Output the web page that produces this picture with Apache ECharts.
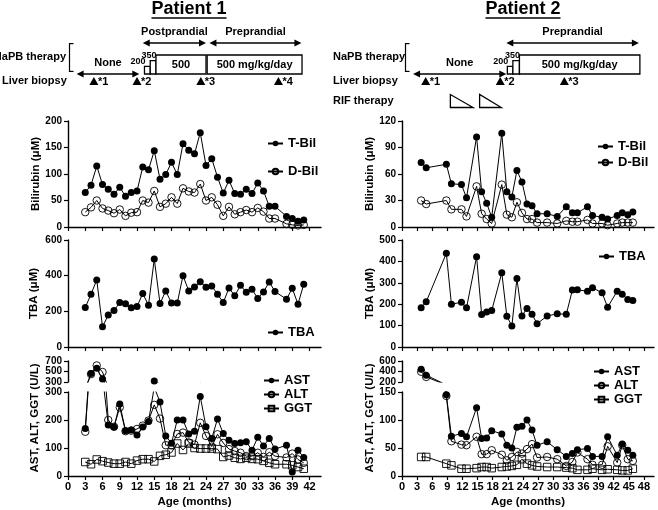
<!DOCTYPE html>
<html>
<head>
<meta charset="utf-8">
<script src="https://cdn.jsdelivr.net/npm/echarts@6/dist/echarts.min.js"></script>
<style>
  html, body { margin: 0; padding: 0; background: #fff; }
  #main { width: 658px; height: 510px; }
</style>
</head>
<body>
<div id="main"></div>
<script>
// ---- Patient 1 data (age in months) ----
const months1 = [3,4,5,6,7,8,9,10,11,12,13,14,15,16,17,18,19,20,21,22,23,24,25,26,27,28,29,30,31,32,33,34,35,36,38,39,40,41];
const tbil1 = [65,79,115,80,71,62,75,58,65,68,113,108,144,90,99,122,99,157,145,138,178,116,129,94,64,88,63,62,71,63,83,68,39,39,20,16,11,13];
const dbil1 = [28,37,50,35,31,26,33,21,27,28,50,46,68,38,44,56,44,73,67,65,81,50,56,42,21,38,24,28,32,28,36,29,16,16,6,4,3,4];
const tba1 = [221,296,376,113,179,205,249,242,220,227,300,234,493,244,314,247,247,400,314,337,366,335,342,296,249,331,287,346,307,324,272,309,365,311,268,329,240,352];
const ast1 = [170,461,560,355,182,175,257,162,164,146,175,195,317,264,143,117,200,200,150,160,284,176,134,204,152,128,116,119,122,92,138,107,134,96,110,14,92,66];
const alt1 = [158,450,615,490,200,176,245,160,162,168,180,198,254,205,110,110,150,155,120,112,190,143,105,149,118,96,89,83,71,71,83,68,85,71,66,80,59,47];
const ggt1 = [50,42,59,53,48,44,44,50,44,55,60,60,52,72,76,84,116,93,116,100,98,98,98,96,68,73,65,61,65,61,60,54,47,42,42,38,32,26];

// ---- Patient 2 data ----
const months2 = [3.8,4.8,8.8,9.8,11.8,12.8,14.8,15.8,16.8,17.8,19.8,20.8,21.8,22.8,23.8,24.8,25.8,26.8,28.8,30.8,32.6,33.8,34.8,36.8,37.8,39.7,40.8,42.7,43.7,44.8,45.8];
const tbil2 = [73,67,71,49,48,33,102,40,27,11,106,40,34,64,51,26,24,15,15,12,23,16,16,23,13,11,9,13,16,14,17];
const dbil2 = [30,26,30,20,20,12,46,15,9,4,48,14,11,28,16,9,9,5,5,4,7,6,6,8,4,4,2,4,5,5,5];
const tba2 = [183,211,438,200,209,183,422,152,164,170,347,144,98,320,145,180,153,109,145,155,153,266,267,261,277,253,186,261,247,222,217];
const ast2 = [445,330,145,71,76,70,122,67,68,81,75,55,50,87,89,100,82,55,61,47,35,40,47,49,35,35,70,37,57,46,37];
const alt2 = [395,297,143,62,56,55,70,39,39,46,38,28,34,43,40,48,57,33,34,30,18,25,42,30,20,20,53,24,55,30,27];
const ggt2 = [34,34,22,19,13,13,14,16,16,14,16,17,18,20,30,22,19,17,16,16,15,14,11,11,13,11,12,11,10,10,13];

// ---- tick labels ----
const xTicks1 = [0,3,6,9,12,15,18,21,24,27,30,33,36,39,42];
const xTicks2 = [0,3,6,9,12,15,18,21,24,27,30,33,36,39,42,45,48];
const bilTicks1 = [0,50,100,150,200];
const tbaTicks1 = [0,200,400,600];
const astHiTicks1 = [300,500,700];
const astLoTicks1 = [0,100,200,300];
const bilTicks2 = [0,30,60,90,120];
const tbaTicks2 = [0,100,200,300,400,500];
const astHiTicks2 = [200,400,600];
const astLoTicks2 = [0,50,100,150];

// ---- therapy timelines (months) ----
const napb1 = [
  {from: 13.3, to: 14.3, dose: 200, text: '200'},
  {from: 14.3, to: 15.3, dose: 350, text: '350'},
  {from: 15.3, to: 24.0, dose: 500, text: '500'},
  {from: 24.2, to: 40.7, dose: 500, text: '500 mg/kg/day'}
];
const none1 = [1.5, 12.4];
const meal1 = [{from: 13.0, to: 24.0, text: 'Postprandial'}, {from: 24.6, to: 40.6, text: 'Preprandial'}];
const biopsy1 = [4.5, 12.0, 23.1, 36.6];

const napb2 = [
  {from: 20.9, to: 22.0, dose: 200, text: '200'},
  {from: 22.0, to: 23.3, dose: 350, text: '350'},
  {from: 23.3, to: 47.2, dose: 500, text: '500 mg/kg/day'}
];
const none2 = [2.2, 20.7];
const meal2 = [{from: 20.7, to: 47.0, text: 'Preprandial'}];
const biopsy2 = [4.7, 19.5, 32.2];
const rif2 = [[9.6, 14.1], [15.4, 19.7]];

const FONT = 'Arial, "Liberation Sans", Helvetica, sans-serif';
const BLACK = '#000';

const chart = echarts.init(document.getElementById('main'));

function pairs(xs, ys) {
  return xs.map((x, i) => [x, ys[i]]);
}

function line(name, xs, ys, kind, idx) {
  const open = kind !== 'filled';
  return {
    name: name, type: 'line', xAxisIndex: idx, yAxisIndex: idx,
    data: pairs(xs, ys),
    symbol: kind === 'square' ? 'rect' : 'circle',
    symbolSize: open ? 7.5 : 7,
    clip: true,
    lineStyle: {color: BLACK, width: 1},
    itemStyle: {
      color: open ? 'rgba(255,255,255,0)' : BLACK,
      borderColor: BLACK,
      borderWidth: open ? 0.9 : 0
    },
    emphasis: {disabled: true}
  };
}

function xAxis(idx, max, ticks, kind) {
  return {
    type: 'value', gridIndex: idx, min: 0, max: max,
    show: kind !== 'hidden',
    axisLine: {show: true, onZero: false, lineStyle: {color: BLACK, width: 1.4}},
    axisTick: {show: true, length: 4, customValues: ticks, lineStyle: {color: BLACK, width: 1.2}},
    axisLabel: {
      show: kind === 'bottom', customValues: ticks, margin: 5,
      color: BLACK, fontWeight: 'bold', fontSize: 11, fontFamily: FONT
    },
    splitLine: {show: false},
    name: kind === 'bottom' ? 'Age (months)' : '',
    nameLocation: 'middle', nameGap: 20,
    nameTextStyle: {color: BLACK, fontWeight: 'bold', fontSize: 11.5, fontFamily: FONT}
  };
}

function yAxis(idx, min, max, ticks, name, gap) {
  return {
    type: 'value', gridIndex: idx, min: min, max: max,
    axisLine: {show: true, lineStyle: {color: BLACK, width: 1.4}},
    axisTick: {show: true, length: 4, customValues: ticks, lineStyle: {color: BLACK, width: 1.2}},
    axisLabel: {customValues: ticks, margin: 6, color: BLACK, fontWeight: 'bold', fontSize: 10, fontFamily: FONT},
    splitLine: {show: false},
    name: name || '', nameLocation: 'middle', nameGap: gap || 0,
    nameTextStyle: {color: BLACK, fontWeight: 'bold', fontSize: 11.5, fontFamily: FONT}
  };
}

function legend(names, left, top, gap) {
  return {
    data: names, left: left, top: top, orient: 'vertical', itemGap: gap,
    itemWidth: 15, itemHeight: 7, padding: 0, selectedMode: false,
    textStyle: {color: BLACK, fontWeight: 'bold', fontSize: 13, fontFamily: FONT}
  };
}

const grids = [
  {left: 68, top: 121, width: 253, height: 106},
  {left: 68, top: 240, width: 253, height: 107},
  {left: 68, top: 361, width: 253, height: 21},
  {left: 68, top: 392, width: 253, height: 84},
  {left: 402, top: 121, width: 252, height: 106},
  {left: 402, top: 240, width: 252, height: 107},
  {left: 402, top: 361, width: 252, height: 21},
  {left: 402, top: 392, width: 252, height: 84}
].map(g => Object.assign({containLabel: false, outerBoundsMode: 'none'}, g));

const option = {
  animation: false,
  backgroundColor: '#fff',
  grid: grids,
  xAxis: [
    xAxis(0, 44, xTicks1, 'plain'),
    xAxis(1, 44, xTicks1, 'plain'),
    xAxis(2, 44, xTicks1, 'hidden'),
    xAxis(3, 44, xTicks1, 'bottom'),
    xAxis(4, 50, xTicks2, 'plain'),
    xAxis(5, 50, xTicks2, 'plain'),
    xAxis(6, 50, xTicks2, 'hidden'),
    xAxis(7, 50, xTicks2, 'bottom')
  ],
  yAxis: [
    yAxis(0, 0, 200, bilTicks1, 'Bilirubin (μM)', 25),
    yAxis(1, 0, 600, tbaTicks1, 'TBA (μM)', 28),
    yAxis(2, 300, 700, astHiTicks1),
    yAxis(3, 0, 300, astLoTicks1),
    yAxis(4, 0, 120, bilTicks2, 'Bilirubin (μM)', 21),
    yAxis(5, 0, 500, tbaTicks2, 'TBA (μM)', 24),
    yAxis(6, 200, 600, astHiTicks2),
    yAxis(7, 0, 150, astLoTicks2)
  ],
  legend: [
    legend(['T-Bil', 'D-Bil'], 267, 137, 15),
    legend(['TBA'], 267, 326, 0),
    legend(['AST', 'ALT', 'GGT'], 263, 374, 1),
    legend(['T-Bil', 'D-Bil'], 597, 140, 3),
    legend(['TBA'], 598, 250, 0),
    legend(['AST', 'ALT', 'GGT'], 593, 365, 1)
  ],
  series: [
    line('T-Bil', months1, tbil1, 'filled', 0),
    line('D-Bil', months1, dbil1, 'open', 0),
    line('TBA', months1, tba1, 'filled', 1),
    line('GGT', months1, ggt1, 'square', 2),
    line('ALT', months1, alt1, 'open', 2),
    line('AST', months1, ast1, 'filled', 2),
    line('GGT', months1, ggt1, 'square', 3),
    line('ALT', months1, alt1, 'open', 3),
    line('AST', months1, ast1, 'filled', 3),
    line('T-Bil', months2, tbil2, 'filled', 4),
    line('D-Bil', months2, dbil2, 'open', 4),
    line('TBA', months2, tba2, 'filled', 5),
    line('GGT', months2, ggt2, 'square', 6),
    line('ALT', months2, alt2, 'open', 6),
    line('AST', months2, ast2, 'filled', 6),
    line('GGT', months2, ggt2, 'square', 7),
    line('ALT', months2, alt2, 'open', 7),
    line('AST', months2, ast2, 'filled', 7)
  ]
};
chart.setOption(option);

// ---- annotation drawing (titles, therapy timelines, broken-axis names) ----
const measureCtx = document.createElement('canvas').getContext('2d');
function textWidth(s, size) {
  measureCtx.font = 'bold ' + size + 'px ' + FONT;
  return measureCtx.measureText(s).width;
}

function text(x, y, s, size, align) {
  return {
    type: 'text', x: x, y: y, silent: true,
    style: {text: s, fill: BLACK, fontSize: size, fontWeight: 'bold', fontFamily: FONT,
      align: align || 'center', verticalAlign: 'middle'}
  };
}
function seg(x1, y1, x2, y2, w) {
  return {type: 'line', silent: true, shape: {x1: x1, y1: y1, x2: x2, y2: y2}, style: {stroke: BLACK, lineWidth: w || 1.5}};
}
function poly(points, fill) {
  return {type: 'polygon', silent: true, shape: {points: points},
    style: fill ? {fill: BLACK} : {fill: '#fff', stroke: BLACK, lineWidth: 1.3}};
}
function arrow(x0, x1, y) {
  const h = 7, w = 3.5;
  return [
    seg(x0 + h - 1, y, x1 - h + 1, y, 1.6),
    poly([[x0, y], [x0 + h, y - w], [x0 + h, y + w]], true),
    poly([[x1, y], [x1 - h, y - w], [x1 - h, y + w]], true)
  ];
}

function patientNotes(cfg) {
  const X = m => chart.convertToPixel({xAxisIndex: cfg.axis}, m);
  const els = [];
  // title with underline
  const tw = textWidth(cfg.title, 18);
  els.push(text(cfg.titleX, 9, cfg.title, 18));
  els.push(seg(cfg.titleX - tw / 2, 18, cfg.titleX + tw / 2, 18, 1.6));
  // row labels and bracket
  els.push(text(cfg.rowX, 57, 'NaPB therapy', 11, cfg.rowAlign));
  els.push(text(cfg.rowLeft, 81, 'Liver biopsy', 11, 'left'));
  els.push(seg(cfg.bracketX, 43, cfg.bracketX, 72, 1.2));
  els.push(seg(cfg.bracketX, 43.6, cfg.bracketX + 4, 43.6, 1.2));
  els.push(seg(cfg.bracketX, 71.4, cfg.bracketX + 4, 71.4, 1.2));
  // no-treatment period
  const n0 = X(cfg.none[0]), n1 = X(cfg.none[1]);
  els.push(...arrow(n0, n1, 74));
  els.push(text((n0 + n1) / 2, 63, 'None', 11));
  // meal-timing arrows
  cfg.meal.forEach(m => {
    const a = X(m.from), b = X(m.to);
    els.push(...arrow(a, b, 43));
    els.push(text((a + b) / 2, 32, m.text, 11));
  });
  // NaPB dose boxes
  const bottom = 74, full = 19;
  cfg.napb.forEach(d => {
    const a = X(d.from), b = X(d.to);
    const h = full * d.dose / 500;
    els.push({type: 'rect', silent: true, shape: {x: a, y: bottom - h, width: b - a, height: h},
      style: {fill: '#fff', stroke: BLACK, lineWidth: 1.3}});
    if (d.dose < 500) {
      const tx = d.dose === 350 ? b + 0.5 : a + 1;
      els.push(text(tx, bottom - h - 5, d.text, 9, 'right'));
    } else {
      els.push(text((a + b) / 2, bottom - full / 2, d.text, 11));
    }
  });
  // liver biopsies
  cfg.biopsy.forEach((m, i) => {
    const x = X(m);
    els.push(poly([[x, 77], [x - 4.5, 85], [x + 4.5, 85]], true));
    els.push(text(x + 4, 82, '*' + (i + 1), 11, 'left'));
  });
  // rifampicin courses
  if (cfg.rif) {
    els.push(text(cfg.rowLeft, 101, 'RIF therapy', 11, 'left'));
    cfg.rif.forEach(r => {
      const a = X(r[0]), b = X(r[1]);
      els.push(poly([[a, 94.5], [a, 107.5], [b, 107.5]], false));
    });
  }
  // broken-axis name
  els.push({
    type: 'text', x: cfg.astNameX, y: 418, rotation: Math.PI / 2, silent: true,
    style: {text: 'AST, ALT, GGT (U/L)', fill: BLACK, fontSize: 11.5, fontWeight: 'bold',
      fontFamily: FONT, align: 'center', verticalAlign: 'middle'}
  });
  return els;
}

const graphics = [].concat(
  patientNotes({axis: 3, title: 'Patient 1', titleX: 189, rowX: 66, rowAlign: 'right', rowLeft: 2,
    bracketX: 69.5, none: none1, meal: meal1, napb: napb1, biopsy: biopsy1, astNameX: 35}),
  patientNotes({axis: 7, title: 'Patient 2', titleX: 523, rowX: 333, rowAlign: 'left', rowLeft: 333,
    bracketX: 405.5, none: none2, meal: meal2, napb: napb2, biopsy: biopsy2, rif: rif2, astNameX: 370})
);
chart.setOption({graphic: graphics});
</script>
</body>
</html>
